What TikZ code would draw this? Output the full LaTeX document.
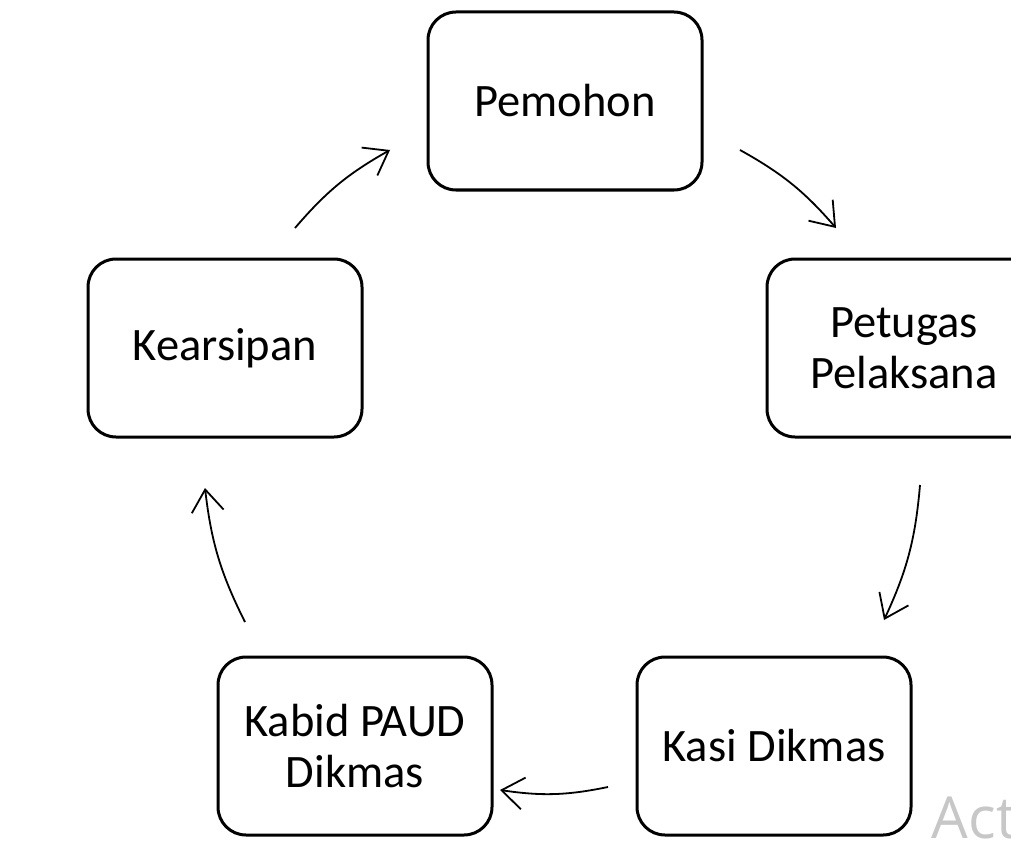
\documentclass[tikz,border=0pt]{standalone}
\usepackage{fontspec}
\setmainfont{Carlito}
\newfontfamily\wmfont{Open Sans}
\usetikzlibrary{positioning,arrows.meta}
\tikzset{>={Straight Barb[length=22pt,width=32pt]}}

\begin{document}
\begin{tikzpicture}[x=1pt,y=1pt,->,line width=1.8pt,bend left=10]
      \tikzstyle{every node}=[font=\fontsize{46.5}{51}\selectfont]
      \tikzstyle{tahap}=[draw=black,line width=3pt,rounded corners=28pt,
                         minimum width=274pt,minimum height=178pt,
                         align=center,inner sep=0pt]

      \useasboundingbox (0,0) rectangle (1011,-845);

      \node[tahap] (pemohon)   at (565,-101) {Pemohon};
      \node[tahap] (petugas)   at (904,-348) {Petugas\\Pelaksana};
      \node[tahap] (kasi)      at (774,-746) {Kasi Dikmas};
      \node[tahap] (kabid)     at (355,-746) {Kabid PAUD\\Dikmas};
      \node[tahap] (kearsipan) at (225,-348) {Kearsipan};

      % ujung-ujung panah
      \coordinate (ks) at (295,-228);  \coordinate (pe) at (390,-150);
      \coordinate (ps) at (740,-150);  \coordinate (te) at (836,-228);
      \coordinate (ts) at (920,-485);  \coordinate (ie) at (884,-620);
      \coordinate (is) at (608,-787);  \coordinate (be) at (500,-790);
      \coordinate (bs) at (245,-622);  \coordinate (ae) at (205,-488);

      \path (ks) edge (pe)
            (ps) edge (te)
            (ts) edge (ie)
            (is) edge (be)
            (bs) edge (ae);

      \node[text=black!22,font=\wmfont\fontsize{58}{58}\selectfont,
            anchor=base west,inner sep=0pt] (tanda) at (931,-838) {Act};
\end{tikzpicture}
\end{document}
